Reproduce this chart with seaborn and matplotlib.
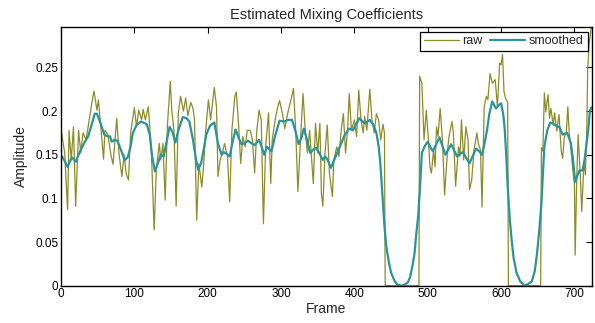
import matplotlib
matplotlib.use("Agg")
import matplotlib.pyplot as plt
import seaborn as sns
import numpy as np

# raw mixing coefficient (frame, amplitude)
raw_frames = [0, 5, 9, 11, 14, 17, 20, 24, 27, 30, 34, 37, 42, 45, 49, 51, 55, 58, 60, 64,
              68, 71, 76, 79, 83, 86, 89, 92, 95, 100, 103, 106, 110, 112, 115, 119, 123, 125, 127, 130,
              134, 136, 139, 142, 145, 149, 151, 154, 157, 160, 163, 167, 170, 173, 177, 180, 182, 185, 188, 192,
              195, 197, 201, 204, 209, 212, 214, 217, 220, 223, 227, 230, 233, 237, 239, 242, 245, 248, 251, 254,
              258, 261, 264, 267, 270, 273, 276, 279, 283, 286, 288, 292, 295, 298, 302, 305, 310, 313, 317, 320,
              323, 327, 330, 333, 336, 339, 344, 347, 350, 353, 355, 357, 360, 363, 366, 370, 372, 376, 379, 382,
              385, 388, 391, 393, 396, 400, 403, 406, 409, 412, 414, 417, 421, 424, 427, 430, 433, 436, 439, 441,
              442, 488, 489, 492, 495, 498, 501, 503, 505, 508, 510, 512, 514, 517, 520, 523, 527, 529, 533, 535,
              538, 542, 544, 546, 549, 552, 555, 557, 560, 563, 567, 569, 572, 574, 577, 580, 582, 585, 588, 592,
              595, 598, 600, 602, 604, 606, 609, 610, 654, 655, 657, 659, 661, 664, 666, 668, 671, 673, 676, 679,
              682, 684, 686, 689, 691, 693, 695, 698, 700, 701, 703, 705, 708, 710, 713, 715, 717, 718, 720, 723]
raw_values = [0.180, 0.152, 0.087, 0.178, 0.144, 0.182, 0.091, 0.178, 0.152, 0.175, 0.167, 0.182, 0.209, 0.223, 0.201, 0.213, 0.175, 0.145, 0.178, 0.173,
              0.150, 0.139, 0.192, 0.152, 0.125, 0.150, 0.128, 0.121, 0.175, 0.204, 0.182, 0.201, 0.190, 0.202, 0.190, 0.205, 0.159, 0.113, 0.064, 0.133,
              0.163, 0.144, 0.163, 0.098, 0.182, 0.234, 0.201, 0.178, 0.091, 0.198, 0.217, 0.200, 0.215, 0.195, 0.210, 0.203, 0.190, 0.075, 0.140, 0.113,
              0.144, 0.175, 0.213, 0.190, 0.227, 0.205, 0.125, 0.144, 0.152, 0.163, 0.148, 0.096, 0.178, 0.217, 0.222, 0.186, 0.140, 0.171, 0.159, 0.178,
              0.178, 0.167, 0.129, 0.178, 0.201, 0.190, 0.071, 0.159, 0.198, 0.117, 0.167, 0.190, 0.203, 0.212, 0.197, 0.180, 0.201, 0.211, 0.226, 0.178,
              0.108, 0.175, 0.220, 0.178, 0.152, 0.178, 0.117, 0.186, 0.152, 0.186, 0.106, 0.091, 0.152, 0.184, 0.129, 0.102, 0.144, 0.159, 0.148, 0.178,
              0.197, 0.152, 0.182, 0.220, 0.178, 0.190, 0.171, 0.224, 0.190, 0.175, 0.194, 0.178, 0.225, 0.190, 0.175, 0.197, 0.190, 0.167, 0.185, 0.175,
              0.0, 0.0, 0.240, 0.232, 0.167, 0.201, 0.167, 0.136, 0.129, 0.155, 0.136, 0.182, 0.171, 0.203, 0.167, 0.104, 0.155, 0.171, 0.188, 0.175,
              0.114, 0.159, 0.148, 0.190, 0.144, 0.182, 0.167, 0.110, 0.121, 0.155, 0.175, 0.163, 0.155, 0.090, 0.205, 0.217, 0.213, 0.243, 0.232, 0.236,
              0.205, 0.255, 0.253, 0.265, 0.222, 0.215, 0.210, 0.0, 0.0, 0.158, 0.154, 0.221, 0.199, 0.219, 0.192, 0.203, 0.184, 0.198, 0.177, 0.196,
              0.154, 0.146, 0.169, 0.177, 0.205, 0.173, 0.158, 0.131, 0.116, 0.035, 0.116, 0.173, 0.127, 0.085, 0.142, 0.127, 0.184, 0.245, 0.276, 0.296]

# smoothed coefficient
smooth_frames = [0, 5, 9, 12, 15, 20, 26, 32, 37, 42, 46, 49, 54, 59, 64, 67, 69, 73, 77, 82,
                 87, 91, 95, 98, 103, 109, 117, 121, 124, 128, 132, 136, 140, 144, 148, 152, 156, 160, 166, 171,
                 175, 180, 184, 187, 191, 195, 198, 203, 209, 214, 219, 222, 226, 230, 234, 238, 242, 246, 250, 255,
                 260, 264, 270, 274, 277, 281, 287, 292, 298, 304, 310, 315, 320, 324, 328, 331, 336, 340, 344, 348,
                 352, 357, 360, 363, 368, 373, 378, 383, 387, 393, 398, 403, 407, 411, 415, 421, 426, 430, 433, 435,
                 437, 439, 441, 443.5, 447, 450, 455, 459, 465, 470, 473, 476, 479, 482, 484, 487, 489, 492, 496, 500,
                 504, 507, 512, 516, 520, 524, 528, 532, 536, 540, 544, 548, 552, 557, 561, 566, 570, 574, 578, 581,
                 584, 588, 593, 597, 600, 603, 605, 607, 609, 612, 614, 617, 621, 626, 632, 637, 642, 646, 649, 652,
                 655, 657, 659, 663, 667, 672, 676, 680, 684, 690, 695, 698, 701, 704, 707, 711, 714, 716, 719, 721, 723]
smooth_values = [0.150, 0.143, 0.136, 0.142, 0.147, 0.142, 0.154, 0.164, 0.171, 0.185, 0.197, 0.197, 0.186, 0.173, 0.171, 0.171, 0.165, 0.167, 0.166, 0.155,
                 0.144, 0.147, 0.160, 0.175, 0.184, 0.188, 0.185, 0.173, 0.150, 0.131, 0.140, 0.150, 0.148, 0.165, 0.182, 0.176, 0.164, 0.178, 0.193, 0.192,
                 0.188, 0.167, 0.145, 0.133, 0.140, 0.158, 0.173, 0.183, 0.187, 0.163, 0.150, 0.153, 0.151, 0.148, 0.165, 0.179, 0.170, 0.162, 0.163, 0.166,
                 0.163, 0.161, 0.167, 0.158, 0.150, 0.159, 0.154, 0.172, 0.189, 0.188, 0.190, 0.190, 0.176, 0.162, 0.170, 0.180, 0.165, 0.152, 0.156, 0.158,
                 0.152, 0.144, 0.148, 0.145, 0.135, 0.145, 0.155, 0.165, 0.173, 0.180, 0.178, 0.186, 0.192, 0.188, 0.186, 0.190, 0.184, 0.175, 0.160, 0.144,
                 0.120, 0.094, 0.068, 0.045, 0.027, 0.015, 0.005, 0.001, 0.0, 0.002, 0.004, 0.010, 0.022, 0.037, 0.056, 0.080, 0.106, 0.152, 0.160, 0.165,
                 0.158, 0.154, 0.163, 0.170, 0.160, 0.150, 0.156, 0.162, 0.155, 0.148, 0.151, 0.153, 0.147, 0.140, 0.148, 0.157, 0.154, 0.150, 0.165, 0.179,
                 0.197, 0.211, 0.203, 0.207, 0.209, 0.196, 0.179, 0.150, 0.114, 0.075, 0.056, 0.032, 0.015, 0.005, 0.0, 0.002, 0.005, 0.017, 0.037, 0.063,
                 0.094, 0.128, 0.159, 0.178, 0.187, 0.185, 0.183, 0.181, 0.173, 0.175, 0.164, 0.145, 0.119, 0.126, 0.132, 0.132, 0.145, 0.159, 0.180, 0.200, 0.204]

x_ticks = [0, 100, 200, 300, 400, 500, 600, 700]
y_ticks = [0, 0.05, 0.1, 0.15, 0.2, 0.25]
y_ticklabels = ["0", "0.05", "0.1", "0.15", "0.2", "0.25"]

sns.set_style("white")
plt.rcParams['font.family'] = ['Liberation Sans', 'DejaVu Sans']

fig = plt.figure(figsize=(5.95, 3.23), dpi=100)
ax = fig.add_axes([0.1025, 0.1155, 0.8925, 0.80])

sns.lineplot(x=raw_frames, y=raw_values, ax=ax, color="#8c8c28", linewidth=0.9,
             label="raw", estimator=None, sort=False)
sns.lineplot(x=smooth_frames, y=smooth_values, ax=ax, color="#2b9499", linewidth=1.6,
             label="smoothed", estimator=None, sort=False)

ax.set_xlim(0, 724)
ax.set_ylim(0, 0.296)
ax.set_xticks(x_ticks)
ax.set_yticks(y_ticks)
ax.set_yticklabels(y_ticklabels)
ax.tick_params(direction="in", length=4, width=0.8, labelsize=8.5, top=True, right=True,
               colors="black", pad=2)
for s in ax.spines.values():
    s.set_color("black")
    s.set_linewidth(1.0)

ax.set_title("Estimated Mixing Coefficients", fontsize=10.5, pad=6)
ax.set_xlabel("Frame", fontsize=10, labelpad=1)
ax.set_ylabel("Amplitude", fontsize=10, labelpad=5)

leg = ax.legend(loc="upper right", ncol=2, fontsize=9, frameon=True, fancybox=False,
                edgecolor="black", framealpha=1, handlelength=2.8, columnspacing=0.6,
                handletextpad=0.3, borderpad=0.3, borderaxespad=0.35)
leg.get_frame().set_linewidth(0.9)

fig.savefig("out.png", dpi=100)
